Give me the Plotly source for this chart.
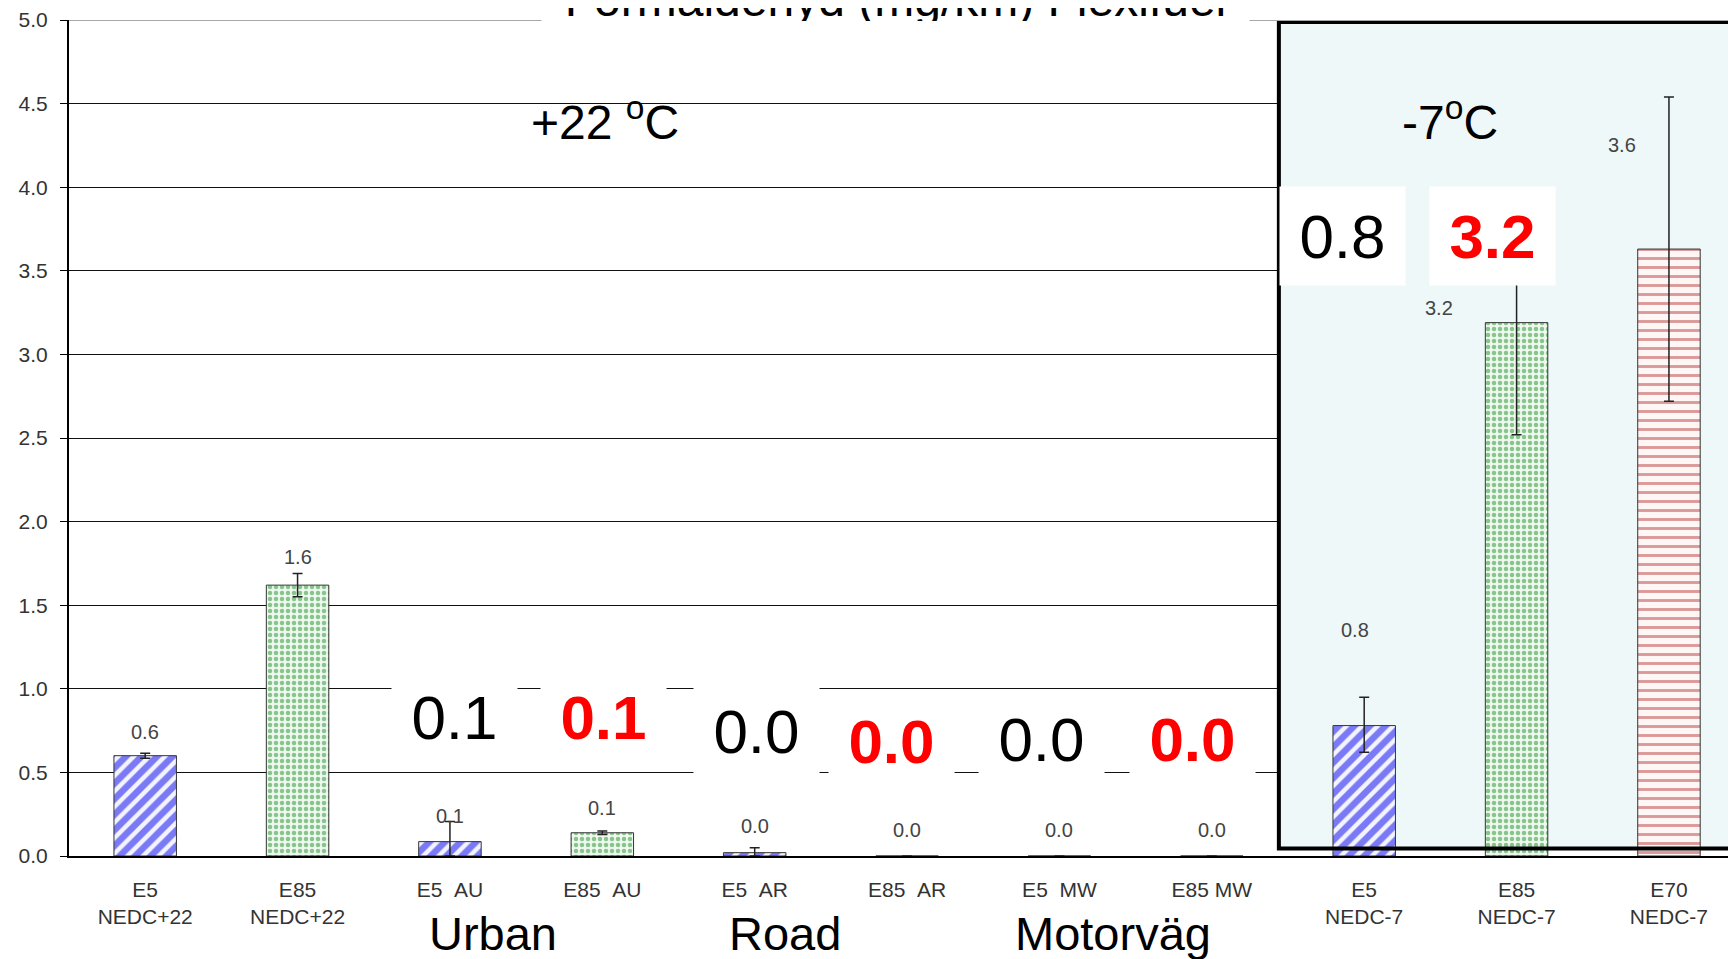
import plotly.graph_objects as go

# ---------------- data ----------------
categories = ["E5<br>NEDC+22", "E85<br>NEDC+22", "E5\u00a0\u00a0AU", "E85\u00a0\u00a0AU",
              "E5\u00a0\u00a0AR", "E85\u00a0\u00a0AR", "E5\u00a0\u00a0MW", "E85\u00a0MW",
              "E5<br>NEDC-7", "E85<br>NEDC-7", "E70<br>NEDC-7"]
fuel = ["E5", "E85", "E5", "E85", "E5", "E85", "E5", "E85", "E5", "E85", "E70"]
values = [0.60, 1.62, 0.086, 0.139, 0.02, 0.0, 0.0, 0.0, 0.78, 3.19, 3.63]
err_plus = [0.015, 0.07, 0.12, 0.01, 0.03, 0.0, 0.0, 0.0, 0.17, 0.67, 0.91]
err_minus = [0.015, 0.07, 0.086, 0.01, 0.02, 0.0, 0.0, 0.0, 0.16, 0.67, 0.91]
# positions of the small value labels (as in the source chart)
label_x = [0, 1, 2, 3, 4, 5, 6, 7, 7.94, 8.49, 9.69]
label_y = [0.74, 1.79, 0.24, 0.29, 0.18, 0.155, 0.155, 0.155, 1.35, 3.28, 4.25]

# big summary numbers: (value index, x, y, colour/bold)
big_idx = [2, 3, 4, 5, 6, 7, 8, 9]
big_x = [2.03, 3.01, 4.01, 4.90, 5.88, 6.87, 7.86, 8.84]
big_y = [0.83, 0.83, 0.75, 0.69, 0.70, 0.70, 3.71, 3.71]
big_red = [False, True, False, True, False, True, False, True]

groups = ["Urban", "Road", "Motorväg"]
group_x = [2.28, 4.20, 6.35]

title = "Formaldehyd (mg/km) Flexifuel"
temps = ["+22 <sup>o</sup>C", "-7<sup>o</sup>C"]
temp_x = [3.02, 8.56]

FONT = "Liberation Sans, Arial, sans-serif"

styles = {
    "E5": dict(color="#0000ff", pattern=dict(shape="/", fgcolor="#0000ee", bgcolor="#f4f4ff",
                                            size=11, solidity=0.6)),
    "E85": dict(color="#2a9a2a", pattern=dict(shape=".", fgcolor="#22922a", bgcolor="#eef8ee",
                                             size=6, solidity=0.45)),
    "E70": dict(color="#c03030", pattern=dict(shape="-", fgcolor="#b83a3a", bgcolor="#fff6f6",
                                             size=9, solidity=0.32)),
}

fig = go.Figure()
for f in ["E5", "E85", "E70"]:
    idx = [i for i, g in enumerate(fuel) if g == f]
    fig.add_trace(go.Bar(
        x=idx, y=[values[i] for i in idx], width=0.41,
        marker=dict(color=styles[f]["color"], pattern=styles[f]["pattern"],
                    line=dict(color="#333333", width=1)),
        error_y=dict(type="data", array=[err_plus[i] for i in idx],
                     arrayminus=[err_minus[i] for i in idx],
                     color="#222222", thickness=1.5, width=5),
        showlegend=False, name=f,
    ))

shapes = [
    # -7 C region fill
    dict(type="rect", xref="x", yref="y", x0=7.44, x1=10.8, y0=0.045, y1=4.988,
         fillcolor="#eef8f8", line=dict(width=0), layer="between"),
    # -7 C region border
    dict(type="rect", xref="x", yref="y", x0=7.44, x1=10.8, y0=0.045, y1=4.988,
         fillcolor="rgba(0,0,0,0)", line=dict(color="black", width=4), layer="above"),
    # grey top line at 5.0
    dict(type="line", xref="paper", yref="y", x0=0, x1=1, y0=5, y1=5,
         line=dict(color="#a8a8a8", width=2), layer="above"),
]

annotations = []
# small value labels
for i, v in enumerate(values):
    annotations.append(dict(x=label_x[i], y=label_y[i], xref="x", yref="y",
                            text=f"{v:.1f}", showarrow=False,
                            font=dict(family=FONT, size=20, color="#444444")))
# big summary numbers in white boxes
for k, i in enumerate(big_idx):
    txt = f"{values[i]:.1f}"
    if big_red[k]:
        txt = f"<b>{txt}</b>"
    annotations.append(dict(x=big_x[k], y=big_y[k], xref="x", yref="y", text=txt,
                            showarrow=False, bgcolor="white", borderpad=0,
                            width=125, height=98,
                            font=dict(family=FONT, size=62,
                                      color="#ff0000" if big_red[k] else "black")))
# temperature labels
for t, xx in zip(temps, temp_x):
    annotations.append(dict(x=xx, y=4.41, xref="x", yref="y", text=t, showarrow=False,
                            font=dict(family=FONT, size=48, color="black")))
# group labels under axis
for g, xx in zip(groups, group_x):
    annotations.append(dict(x=xx, y=0, xref="x", yref="paper", yanchor="middle", yshift=-77,
                            text=g, showarrow=False,
                            font=dict(family=FONT, size=47, color="black")))
# title (cut off at the top)
annotations.append(dict(x=4.925, y=1, xref="x", yref="paper", yanchor="bottom", yshift=-2,
                        text=title, showarrow=False, bgcolor="white", borderpad=0,
                        width=707, height=44,
                        font=dict(family=FONT, size=48, color="black")))

fig.update_layout(
    width=1728, height=951,
    margin=dict(l=61, r=0, t=12, b=103),
    paper_bgcolor="white", plot_bgcolor="white",
    shapes=shapes, annotations=annotations,
    xaxis=dict(range=[-0.5, 10.44], tickmode="array", tickvals=list(range(len(categories))),
               ticktext=categories, showgrid=False, zeroline=False,
               showline=True, linecolor="black", linewidth=1.5,
               ticks="", ticklabelstandoff=14,
               tickfont=dict(family=FONT, size=21, color="#333333")),
    yaxis=dict(range=[0, 5], tickmode="array", tickvals=[i * 0.5 for i in range(11)],
               ticktext=[f"{i * 0.5:.1f}" for i in range(11)],
               showgrid=True, gridcolor="#111111", gridwidth=1.3, zeroline=False,
               showline=True, linecolor="black", linewidth=2,
               ticks="outside", ticklen=7, tickcolor="black", ticklabelstandoff=8,
               tickfont=dict(family=FONT, size=21, color="#333333")),
)

fig.write_html("out.html")
